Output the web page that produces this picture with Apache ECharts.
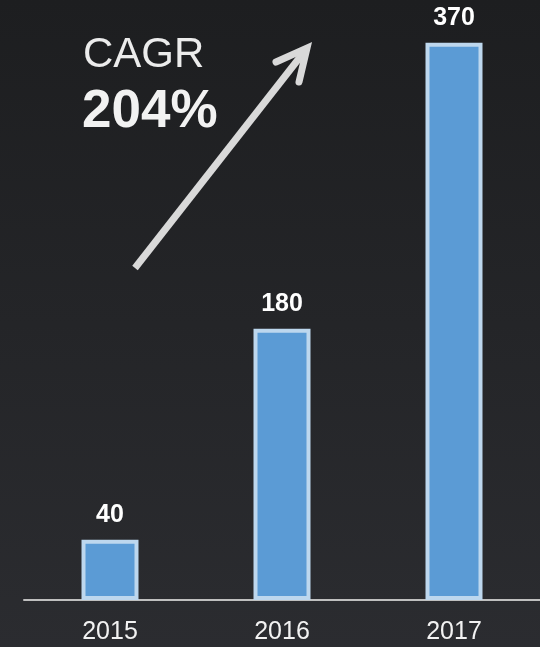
<!DOCTYPE html>
<html>
<head>
<meta charset="utf-8">
<script src="https://cdn.jsdelivr.net/npm/echarts@6/dist/echarts.min.js"></script>
<style>
    html, body { margin: 0; padding: 0; }
    #chart { width: 540px; height: 647px; }
</style>
</head>
<body>
<div id="chart"></div>
<script>
const years = ['2015', '2016', '2017'];
const revenue = [40, 180, 370];
const cagrTitle = 'CAGR';
const cagrValue = '204%';

const myChart = echarts.init(document.getElementById('chart'));

const option = {
    backgroundColor: {
        type: 'linear', x: 0, y: 0, x2: 0, y2: 1,
        colorStops: [
            { offset: 0, color: '#1d1e20' },
            { offset: 1, color: '#2b2c30' }
        ]
    },
    textStyle: { fontFamily: 'Liberation Sans, Arial, sans-serif' },
    grid: { left: 24, right: 0, top: 2, bottom: 47 },
    xAxis: {
        type: 'category',
        data: years,
        axisLine: { lineStyle: { color: '#bfbfbf', width: 2 } },
        axisTick: { show: false },
        axisLabel: { color: '#f2f2f2', fontSize: 25, margin: 20 }
    },
    yAxis: {
        type: 'value',
        min: 0,
        max: 397,
        show: false,
        splitLine: { show: false }
    },
    series: [
        {
            type: 'bar',
            data: revenue,
            barWidth: 57,
            itemStyle: {
                color: '#5b9bd5',
                borderColor: '#bdd7ee',
                borderWidth: 4
            },
            label: {
                show: true,
                position: 'top',
                distance: 12,
                color: '#ffffff',
                fontSize: 25,
                fontWeight: 'bold'
            }
        }
    ],
    graphic: [
        {
            type: 'text',
            left: 83,
            top: 34,
            style: { text: cagrTitle, fill: '#ececec', fontSize: 42, fontFamily: 'Liberation Sans' }
        },
        {
            type: 'text',
            left: 82,
            top: 86,
            style: { text: cagrValue, fill: '#f2f2f2', fontSize: 53, fontWeight: 'bold', fontFamily: 'Liberation Sans' }
        },
        {
            type: 'line',
            shape: { x1: 135, y1: 268, x2: 304, y2: 52 },
            style: { stroke: '#d9d9d9', lineWidth: 7 }
        },
        {
            type: 'polyline',
            shape: { points: [[276, 62], [307, 48], [299, 82]] },
            style: { stroke: '#d9d9d9', lineWidth: 7, fill: null, lineJoin: 'miter', lineCap: 'round' }
        }
    ]
};

myChart.setOption(option);
</script>
</body>
</html>
